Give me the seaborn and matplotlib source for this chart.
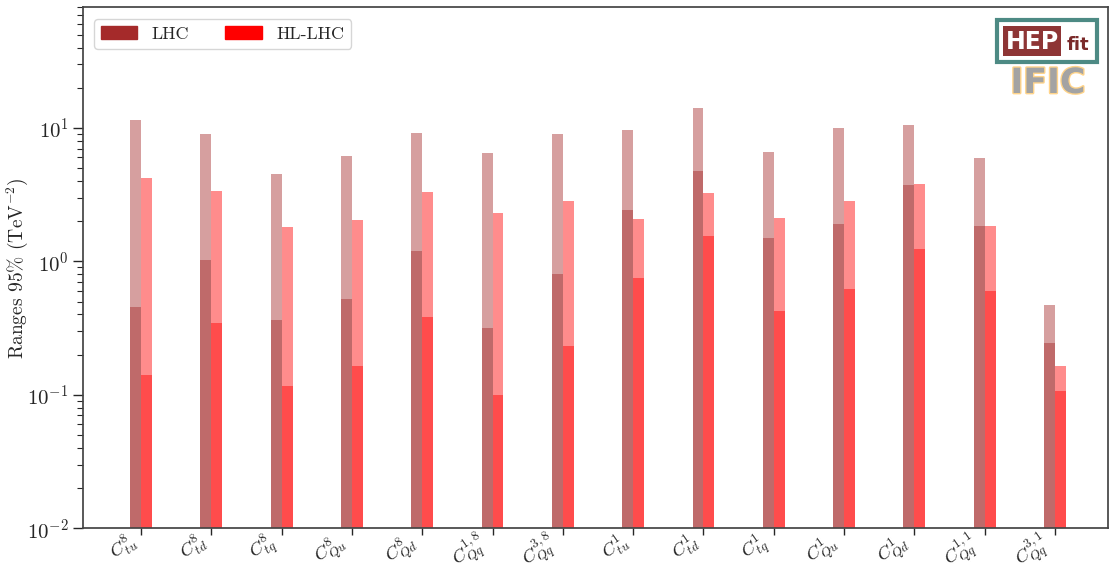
import matplotlib
matplotlib.use("Agg")
import matplotlib.pyplot as plt
import matplotlib.patheffects as pe
import pandas as pd
import seaborn as sns
from matplotlib.patches import Patch, Rectangle

# operators on the x axis (order as in the figure)
coefs = [r"$C_{tu}^{8}$", r"$C_{td}^{8}$", r"$C_{tq}^{8}$", r"$C_{Qu}^{8}$",
         r"$C_{Qd}^{8}$", r"$C_{Qq}^{1,8}$", r"$C_{Qq}^{3,8}$", r"$C_{tu}^{1}$",
         r"$C_{td}^{1}$", r"$C_{tq}^{1}$", r"$C_{Qu}^{1}$", r"$C_{Qd}^{1}$",
         r"$C_{Qq}^{1,1}$", r"$C_{Qq}^{3,1}$"]

# 95% ranges (TeV^-2): global fit (tall, light) and individual fit (short)
lhc_global = [11.5, 9.03, 4.53, 6.18, 9.19, 6.51, 9.03, 9.68, 14.2, 6.62, 10.0, 10.5, 5.97, 0.472]
lhc_indiv = [0.456, 1.03, 0.364, 0.524, 1.20, 0.318, 0.805, 2.43, 4.77, 1.50, 1.91, 3.75, 1.85, 0.245]
hl_global = [4.23, 3.38, 1.81, 2.05, 3.32, 2.31, 2.84, 2.08, 3.26, 2.12, 2.84, 3.81, 1.85, 0.165]
hl_indiv = [0.141, 0.346, 0.117, 0.165, 0.384, 0.100, 0.233, 0.751, 1.55, 0.426, 0.622, 1.24, 0.601, 0.107]

colliders = ["LHC", "HL-LHC"]
colors = {"LHC": "brown", "HL-LHC": "red"}

sns.set_theme(style="ticks")
plt.rcParams["font.family"] = ["cmr10", "DejaVu Serif"]
plt.rcParams["mathtext.fontset"] = "cm"
plt.rcParams["axes.formatter.use_mathtext"] = True

df = pd.DataFrame({
    "coef": coefs * 2,
    "collider": ["LHC"] * len(coefs) + ["HL-LHC"] * len(coefs),
    "global": lhc_global + hl_global,
    "indiv": lhc_indiv + hl_indiv,
})

fig = plt.figure(figsize=(11.1, 5.68), dpi=100)
ax = fig.add_axes([0.0748, 0.0699, 0.9234, 0.9172])

for col in ["global", "indiv"]:
    sns.barplot(data=df, x="coef", y=col, hue="collider", hue_order=colliders,
                palette=colors, saturation=1, alpha=0.45, width=0.31,
                linewidth=0, errorbar=None, legend=False, ax=ax)

ax.set_yscale("log")
ax.set_ylim(1e-2, 80)
ax.set_xlim(-0.825, 13.755)
ax.set_xlabel("")
ax.set_ylabel(r"Ranges 95% (TeV$^{-2}$)", fontsize=14)
ax.yaxis.set_label_coords(-0.052, 0.5)
ax.tick_params(axis="y", which="major", labelsize=15, length=7, width=1)
ax.tick_params(axis="y", which="minor", length=4, width=0.8, left=True)
ax.tick_params(axis="x", length=5, width=1, pad=-5, labelrotation=35, labelsize=13.5)
for lbl in ax.get_xticklabels():
    lbl.set_horizontalalignment("right")
for s in ax.spines.values():
    s.set_color("#444444")

handles = [Patch(color=colors[c], label=c) for c in colliders]
ax.legend(handles=handles, loc="upper left", ncol=2, fontsize=13,
          frameon=True, fancybox=True, framealpha=0.8, edgecolor="#cccccc",
          bbox_to_anchor=(0.002, 0.995))

# HEPfit / IFIC logo (approximation)
W, H = 1110, 568
fig.patches.append(Rectangle((997 / W, 1 - 62 / H), 100 / W, 42 / H, transform=fig.transFigure,
                             facecolor="white", edgecolor="#4d8a84", lw=3, zorder=5))
fig.patches.append(Rectangle((1003 / W, 1 - 56 / H), 58 / W, 30 / H, transform=fig.transFigure,
                             facecolor="#8e3535", edgecolor="none", zorder=6))
fig.text(1032 / W, 1 - 42 / H, "HEP", color="white", fontsize=17, fontweight="bold",
         family="DejaVu Sans", ha="center", va="center", zorder=7)
fig.text(1078 / W, 1 - 45 / H, "fit", color="#7a2a2a", fontsize=13, fontweight="bold",
         family="DejaVu Sans", ha="center", va="center", zorder=7)
fig.text(1048 / W, 1 - 83 / H, "IFIC", color="#a3a3a3", fontsize=25, fontweight="bold",
         family="DejaVu Sans", ha="center", va="center", zorder=7,
         path_effects=[pe.withStroke(linewidth=2, foreground="#ffd48a")])

fig.savefig("out.png", dpi=100)
